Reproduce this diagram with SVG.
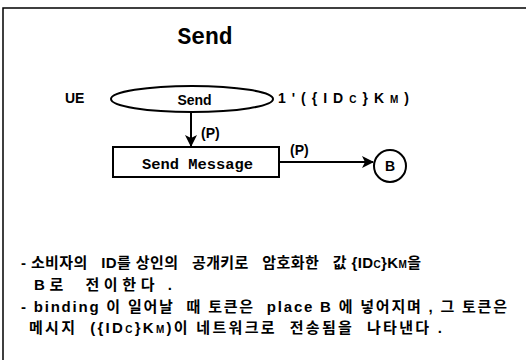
<svg xmlns="http://www.w3.org/2000/svg" width="526" height="360" viewBox="0 0 526 360">
<defs>
<style>
.sans{font-family:"Liberation Sans","Noto Sans CJK KR",Arial,sans-serif;font-weight:bold;fill:#000}
.mono{font-family:"Courier New","Liberation Mono",monospace;font-weight:bold;fill:#000}
.ln{stroke:#000;stroke-width:2;fill:none}
.ko{font-size:15px;white-space:pre}
.sub{font-size:10px}
</style>
<marker id="arr" viewBox="0 0 12 12" refX="11" refY="6" markerWidth="12" markerHeight="12" markerUnits="userSpaceOnUse" orient="auto">
<path d="M0,0 L12,6 L0,12 L3,6 Z" fill="#000"/>
</marker>
</defs>
<rect width="526" height="360" fill="#fff"/>
<path d="M3,360 L3,8 L526,8" stroke="#000" stroke-width="1.5" fill="none"/>
<text class="mono" x="205" y="44" font-size="23" text-anchor="middle">Send</text>
<text class="sans" x="65" y="103" font-size="14">UE</text>
<g id="send">
<ellipse cx="192" cy="99" rx="81" ry="13" class="ln"/>
<text class="sans" x="194.5" y="105" font-size="14" text-anchor="middle">Send</text>
</g>
<text class="sans" x="278" y="103" font-size="14" textLength="131" lengthAdjust="spacing">1'({ID<tspan class="sub">C</tspan>}K<tspan class="sub">M</tspan>)</text>
<g id="sendmsg">
<rect x="113" y="147" width="166" height="30" class="ln"/>
<text class="mono" x="142" y="169" font-size="14" textLength="111" lengthAdjust="spacingAndGlyphs">Send Message</text>
</g>
<g id="B">
<circle cx="390" cy="166" r="16" class="ln"/>
<text class="sans" x="390" y="171" font-size="14" text-anchor="middle">B</text>
</g>
<g id="connectors">
<path d="M191,113 L191,146" class="ln" marker-end="url(#arr)"/>
<path d="M279,162 L373,162" class="ln" marker-end="url(#arr)"/>
</g>
<text class="sans" x="201" y="138" font-size="14">(P)</text>
<text class="sans" x="290" y="155" font-size="14">(P)</text>
<text class="sans ko" x="21" y="268" textLength="400" lengthAdjust="spacing">- 소비자의   ID를 상인의   공개키로   암호화한   값 {ID<tspan class="sub">C</tspan>}K<tspan class="sub">M</tspan>을</text>
<text class="sans ko" x="34" y="290" textLength="138" lengthAdjust="spacing">B로  전이한다 .</text>
<text class="sans ko" x="21" y="312" textLength="486" lengthAdjust="spacing">- binding 이 일어날  때 토큰은  place B 에 넣어지며 , 그 토큰은</text>
<text class="sans ko" x="29" y="333" textLength="413" lengthAdjust="spacing">메시지  ({ID<tspan class="sub">C</tspan>}K<tspan class="sub">M</tspan>)이 네트워크로  전송됨을  나타낸다 .</text>
</svg>
